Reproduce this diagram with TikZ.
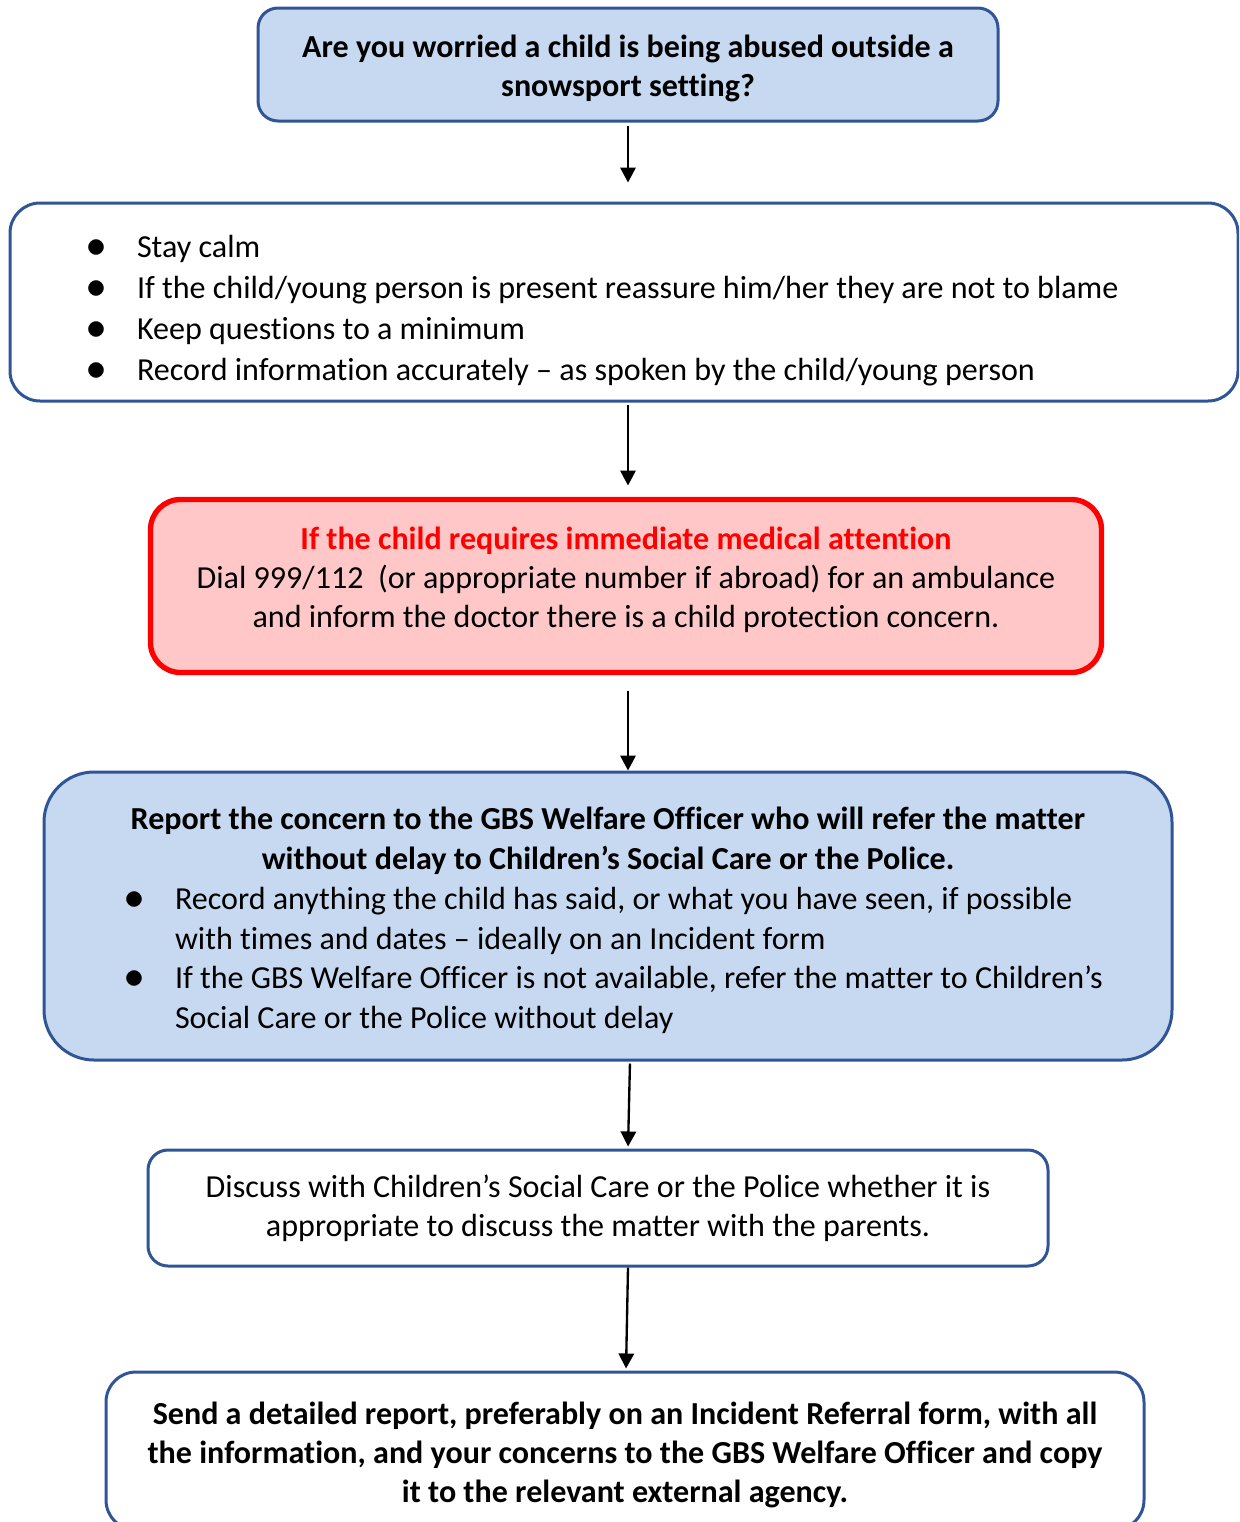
\documentclass[tikz,border=0pt]{standalone}
\usepackage{fontspec}
\setmainfont{Carlito}[Ligatures=NoCommon]
\usetikzlibrary{arrows.meta,calc}

\definecolor{boxblue}{HTML}{C6D9F1}
\definecolor{edgeblue}{HTML}{2F5597}
\definecolor{alertpink}{HTML}{FFC7C7}
\newcommand{\blt}{\makebox[14.4pt][l]{\hspace{-0.9pt}\scalebox{1.2}{$\bullet$}}}

\begin{document}
\begin{tikzpicture}[x=0.3pt, y=-0.3pt,
  box/.style={draw=edgeblue, line width=0.9pt, rounded corners=9pt, inner sep=0pt,
    align=center, font=\fontsize{9.62pt}{11.7pt}\selectfont},
  bluebox/.style={box, fill=boxblue},
  alertbox/.style={box, draw=red, fill=alertpink, line width=1.6pt},
  flow/.style={-{Triangle[length=4.5pt,width=4.6pt]}, line width=0.7pt}]
  \useasboundingbox (0,0) rectangle (1239,1522);
  \clip (0,0) rectangle (1239,1522);

  \node[bluebox, rounded corners=6pt, minimum width=222pt, minimum height=33.9pt] (worried) at (628,64.5)
    {\rule{0pt}{9pt}\bfseries Are you worried a child is being abused outside a\\ \bfseries snowsport setting?};

  \node[box, minimum width=368.4pt, minimum height=59.4pt, font=\fontsize{9.62pt}{12.3pt}\selectfont] (calm) at (624,302)
    {\makebox[321pt][l]{\rule{0pt}{12pt}\blt Stay calm}\\
     \makebox[321pt][l]{\blt If the child/young person is present reassure him/her they are not to blame}\\
     \makebox[321pt][l]{\blt Keep questions to a minimum}\\
     \makebox[321pt][l]{\blt Record information accurately – as spoken by the child/young person}};

  \node[alertbox, minimum width=285.3pt, minimum height=51.9pt] (medical) at (626,586)
    {{\color{red}\bfseries If the child requires immediate medical attention}\\
     Dial 999/112\ \ (or appropriate number if abroad) for an ambulance\\
     and inform the doctor there is a child protection concern.\rule[-5.4pt]{0pt}{0pt}};

  \node[bluebox, rounded corners=15pt, minimum width=338.4pt, minimum height=86.4pt,
    font=\fontsize{9.62pt}{11.95pt}\selectfont] (report) at (608,916)
    {\rule{0pt}{9.4pt}\bfseries Report the concern to the GBS Welfare Officer who will refer the matter\\
     \bfseries without delay to Children’s Social Care or the Police.\\
     \makebox[300pt][l]{\hspace{5.7pt}\blt Record anything the child has said, or what you have seen, if possible}\\
     \makebox[300pt][l]{\hspace{20.1pt}with times and dates – ideally on an Incident form}\\
     \makebox[300pt][l]{\hspace{5.7pt}\blt If the GBS Welfare Officer is not available, refer the matter to Children’s}\\
     \makebox[300pt][l]{\hspace{20.1pt}Social Care or the Police without delay}};

  \node[box, rounded corners=6pt, minimum width=270pt, minimum height=34.8pt] (discuss) at (598,1208)
    {Discuss with Children’s Social Care or the Police whether it is\\
     appropriate to discuss the matter with the parents.};

  \node[box, minimum width=311.4pt, minimum height=47.4pt] (send) at (625,1451)
    {\rule{0pt}{9pt}\bfseries Send a detailed report, preferably on an Incident Referral form, with all\\
     \bfseries the information, and your concerns to the GBS Welfare Officer and copy\\
     \bfseries it to the relevant external agency.};

  % arrows between the boxes
  \draw[flow, shorten <=0.9pt, shorten >=5.7pt] (worried.south) -- (worried.south |- calm.north);
  \draw[flow, shorten <=0.6pt, shorten >=3.4pt] (worried.south |- calm.south) -- (worried.south |- medical.north);
  \draw[flow, shorten <=4.6pt] (worried.south |- medical.south) -- (worried.south |- report.north);
  \draw[flow, shorten <=0.6pt, shorten >=0.6pt] ($(report.south)+(22,0)$) -- ($(discuss.north)+(30,0)$);
  \draw[flow, shorten >=0.6pt] ($(discuss.south)+(30,0)$) -- ($(send.north)+(1,0)$);
\end{tikzpicture}
\end{document}
